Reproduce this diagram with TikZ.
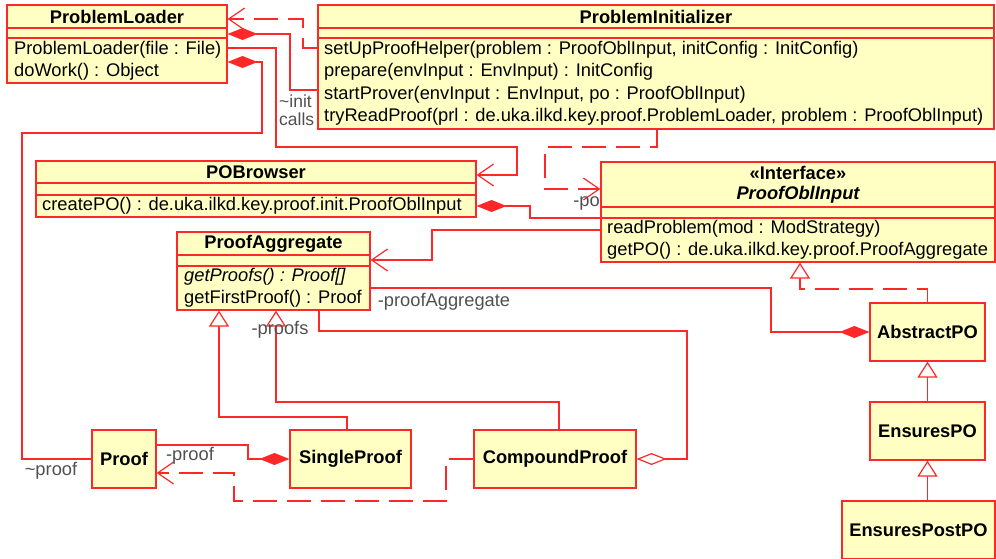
\documentclass[tikz,border=0pt]{standalone}
\usepackage{fontspec}
\setmainfont{Liberation Sans}
\usetikzlibrary{arrows.meta}
\definecolor{umlred}{RGB}{255,40,40}
\definecolor{clsfill}{RGB}{255,255,196}
\definecolor{lblgray}{RGB}{80,80,80}

\begin{document}
\begin{tikzpicture}[x=1pt,y=-1pt,
  font=\fontsize{18.3}{21}\selectfont,
  cls/.style={draw=umlred, fill=clsfill, line width=1.2pt, inner sep=0pt},
  ttl/.style={font=\fontsize{18.3}{21}\selectfont\bfseries, inner sep=0pt},
  meth/.style={anchor=west, inner sep=0pt},
  lbl/.style={text=lblgray, inner sep=0pt},
  conn/.style={draw=umlred, line width=1.2pt},
  dep/.style={conn, dash pattern=on 24pt off 10pt, -{Straight Barb[length=16pt,width=22pt]}},
  nav/.style={conn, -{Straight Barb[length=16pt,width=22pt]}},
  comp/.style={conn, {Diamond[length=30pt,width=12pt,fill=umlred]}-},
  aggr/.style={conn, {Diamond[length=30pt,width=12pt,fill=white]}-},
  gen/.style={conn, -{Triangle[length=16pt,width=20pt,fill=white]}},
  real/.style={gen, dash pattern=on 24pt off 10pt}]

% Canvas
\useasboundingbox (0,0) rectangle (996,559);

% ProblemLoader
\node[cls, minimum width=220pt, minimum height=78pt] (pl) at (117,44) {};
\node[ttl] (plT) at (117,16.5) {ProblemLoader};
\draw[conn] (pl.west |- 0,28) -- (pl.east |- 0,28) (pl.west |- 0,38) -- (pl.east |- 0,38);
\node[meth] (plM1) at (14,50) {ProblemLoader(file : File)};
\node[meth] (plM2) at (14,72) {doWork() : Object};

% ProblemInitializer
\node[cls, minimum width=676pt, minimum height=124pt] (pi) at (656,67) {};
\node[ttl] (piT) at (656,16.5) {ProblemInitializer};
\draw[conn] (pi.west |- 0,28) -- (pi.east |- 0,28) (pi.west |- 0,38) -- (pi.east |- 0,38);
\foreach \y/\txt [count=\i] in {
50/{setUpProofHelper(problem : ProofOblInput, initConfig : InitConfig)},
72/{prepare(envInput : EnvInput) : InitConfig},
95/{startProver(envInput : EnvInput, po : ProofOblInput)},
117/{tryReadProof(prl : de.uka.ilkd.key.proof.ProblemLoader, problem : ProofOblInput)}
} {
    \node[meth] (piM\i) at (324,\y) {\txt};
}

% POBrowser
\node[cls, minimum width=440pt, minimum height=56pt] (pob) at (256,189) {};
\node[ttl] (pobT) at (256,172) {POBrowser};
\draw[conn] (pob.west |- 0,183) -- (pob.east |- 0,183) (pob.west |- 0,195) -- (pob.east |- 0,195);
\node[meth] (pobM1) at (42,206) {createPO() : de.uka.ilkd.key.proof.init.ProofOblInput};

% ProofAggregate
\node[cls, minimum width=193pt, minimum height=78pt] (pa) at (273.5,271) {};
\node[ttl] (paT) at (273.5,243.5) {ProofAggregate};
\draw[conn] (pa.west |- 0,255) -- (pa.east |- 0,255) (pa.west |- 0,266) -- (pa.east |- 0,266);
\node[meth] (paM1) at (184,277) {\itshape getProofs() : Proof[]};
\node[meth] (paM2) at (184,299) {getFirstProof() : Proof};

% ProofOblInput
\node[cls, minimum width=394pt, minimum height=100pt] (poi) at (798,212) {};
\node[ttl] (poiS) at (798,172.5) {«Interface»};
\node[ttl, font=\fontsize{18.3}{21}\selectfont\bfseries\itshape] (poiT) at (798,194.5) {ProofOblInput};
\draw[conn] (poi.west |- 0,207) -- (poi.east |- 0,207) (poi.west |- 0,218) -- (poi.east |- 0,218);
\node[meth] (poiM1) at (607,229) {readProblem(mod : ModStrategy)};
\node[meth] (poiM2) at (607,251) {getPO() : de.uka.ilkd.key.proof.ProofAggregate};

% PO hierarchy
\node[cls, ttl, minimum width=115pt, minimum height=58pt] (apo) at (927.5,332) {AbstractPO};
\node[cls, ttl, minimum width=115pt, minimum height=58pt] (epo) at (927.5,431) {EnsuresPO};
\node[cls, ttl, minimum width=153pt, minimum height=58pt] (eppo) at (918.5,530) {EnsuresPostPO};

% Proofs
\node[cls, ttl, minimum width=64pt, minimum height=58pt] (pr) at (124,459) {Proof};
\node[cls, ttl, minimum width=121pt, minimum height=58pt] (sp) at (350.5,459) {SingleProof};
\node[cls, ttl, minimum width=162pt, minimum height=58pt] (cp) at (555,459) {CompoundProof};

% Connectors
\draw[dep] (pi.west |- 0,48) -- (303,48) -- (303,19) -- (pl.east |- 0,19);
\draw[comp] (pl.east |- 0,34) -- (290,34) -- (290,90) -- (pi.west |- 0,90);
\draw[comp] (pl.east |- 0,62) -- (262,62) -- (262,133) -- (22,133) -- (22,0 |- pr.west) -- (pr.west);
\draw[nav] (pl.east |- 0,48) -- (276,48) -- (276,147) -- (517,147) -- (517,175) -- (pob.east |- 0,175);
\draw[dep] (657,0 |- pi.south) -- (657,147) -- (545,147) -- (545,189) -- (poi.west |- 0,189);
\draw[comp] (pob.east |- 0,206) -- (530,206) -- (530,218) -- (poi.west |- 0,218);
\draw[nav] (poi.west |- 0,230) -- (432,230) -- (432,260) -- (pa.east |- 0,260);
\draw[comp] (apo.west) -- (771,0 |- apo.west) -- (771,288) -- (pa.east |- 0,288);
\draw[real] (apo.north) -- (apo.north |- 0,289) -- (800,289) -- (800,0 |- poi.south);
\draw[gen] (epo.north) -- (apo.south);
\draw[gen] (epo.south |- eppo.north) -- (epo.south);
\draw[gen] (347,0 |- sp.north) -- (347,417) -- (219,417) -- (219,0 |- pa.south);
\draw[gen] (559,0 |- cp.north) -- (559,402) -- (276,402) -- (276,0 |- pa.south);
\draw[aggr] (cp.east) -- (687,0 |- cp.east) -- (687,331) -- (319,331) -- (319,0 |- pa.south);
\draw[comp] (sp.west) -- (248,0 |- sp.west) -- (248,445) -- (pr.east |- 0,445);
\draw[dep] (cp.west) -- (446,0 |- cp.west) -- (446,501) -- (234,501) -- (234,473) -- (pr.east |- 0,473);

% Role labels
\node[lbl, anchor=west, align=left, font=\fontsize{17.5}{18}\selectfont] (lInit) at (279,110) {\textasciitilde init\\calls};
\node[lbl, anchor=east] (lPo) at (600,203) {-po};
\node[lbl] (lAgg) at (444,302) {-proofAggregate};
\node[lbl] (lProofs) at (280,330) {-proofs};
\node[lbl] (lProof) at (190,456) {-proof};
\node[lbl] (lProofL) at (51,471) {\textasciitilde proof};

\end{tikzpicture}
\end{document}
